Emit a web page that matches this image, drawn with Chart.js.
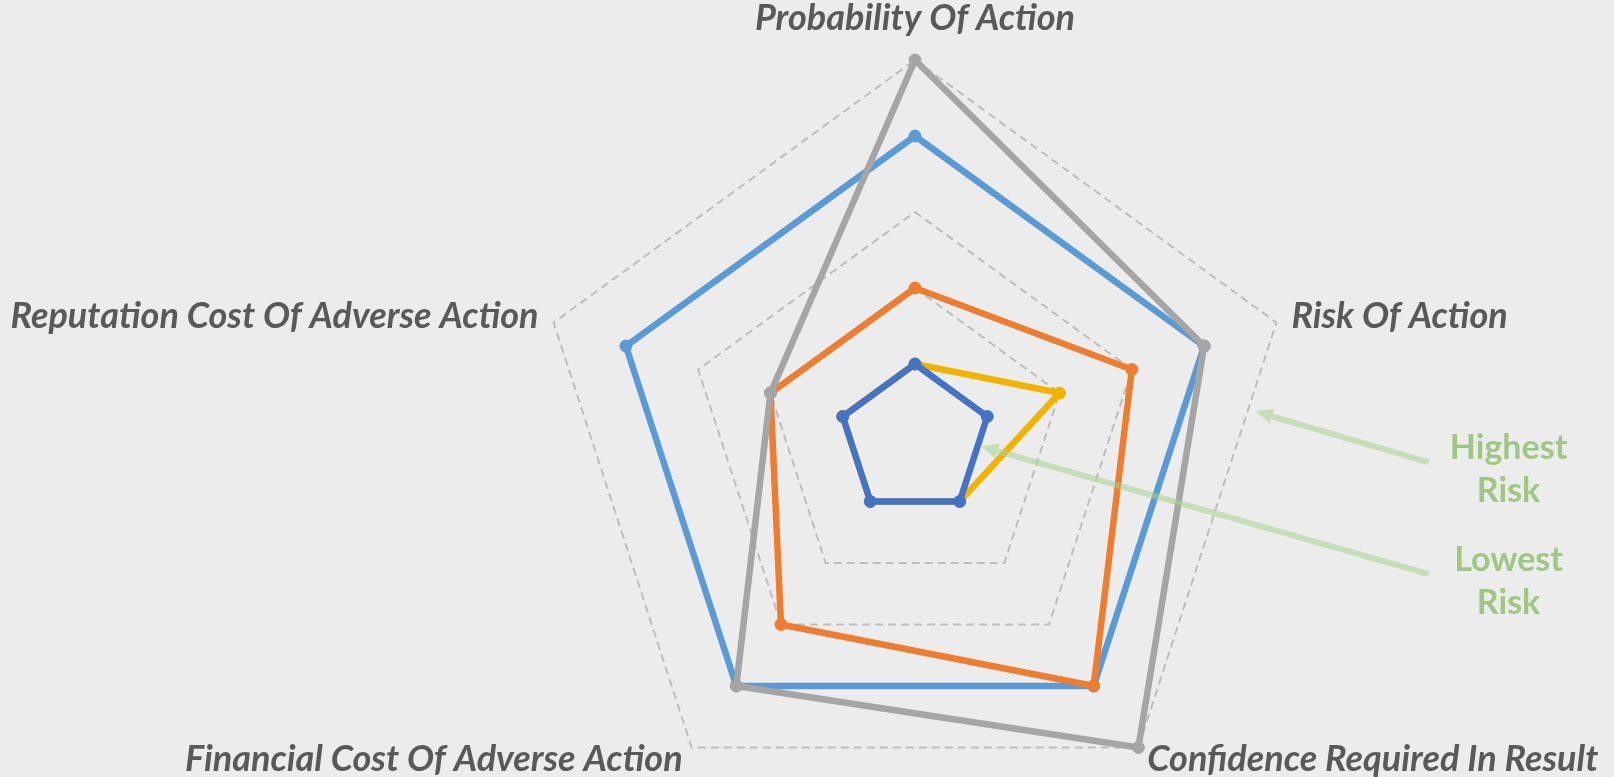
<!DOCTYPE html>
<html>
<head>
<meta charset="utf-8">
<script src="https://cdn.jsdelivr.net/npm/chart.js@4.4.0/dist/chart.umd.min.js"></script>
<style>
  html, body { margin: 0; padding: 0; background: #ececec; overflow: hidden; }
  #wrap { position: relative; width: 1614px; height: 821px; }
</style>
</head>
<body>
<div id="wrap"><canvas id="myCanvas"></canvas></div>
<script>
// axes of the radar
var categories = [
  "Probability Of Action",
  "Risk Of Action",
  "Confidence Required In Result",
  "Financial Cost Of Adverse Action",
  "Reputation Cost Of Adverse Action"
];

// series values (scale 0..5)
var seriesNames = ["Series 1", "Series 2", "Series 3", "Series 4", "Series 5"];
var series1 = [4, 4, 4, 4, 4];
var series2 = [2, 3, 4, 3, 2];
var series3 = [5, 4, 5, 4, 2];
var series4 = [1, 2, 1, 1, 1];
var series5 = [1, 1, 1, 1, 1];

var scaleMin = 0;
var scaleMax = 5;
var scaleStep = 1;

var noteLines = [["Highest", "Risk"], ["Lowest", "Risk"]];

// ---- drawing stuff below ----
var colors = ["#5B9BD5", "#ED7D31", "#A5A5A5", "#F0B400", "#4472C4"];
var allSeries = [series1, series2, series3, series4, series5];

// label placement around each vertex (px offsets from the outer vertex)
var labelPlace = [
  { align: "center", dx: 0, dy: -30 },
  { align: "left", dx: 15, dy: 5 },
  { align: "left", dx: 9, dy: 24 },
  { align: "right", dx: -9, dy: 24 },
  { align: "right", dx: -15, dy: 5 }
];

// annotation arrows, in units of the radar radius from centre
var notes = [
  { from: [1.352, 0.059], to: [0.897, -0.075], text: [1.562, 0.051, 0.164] },
  { from: [1.352, 0.353], to: [0.174, 0.017], text: [1.562, 0.346, 0.459] }
];

var datasets = [];
for (var i = 0; i < allSeries.length; i++) {
  datasets.push({
    label: seriesNames[i],
    data: allSeries[i],
    borderColor: colors[i],
    backgroundColor: colors[i],
    pointBackgroundColor: colors[i],
    pointBorderColor: colors[i],
    borderWidth: 6.5,
    pointRadius: 6,
    pointBorderWidth: 1,
    borderJoinStyle: "round",
    borderCapStyle: "round",
    fill: false,
    order: allSeries.length - i   // later series drawn on top
  });
}

function arrow(ctx, x1, y1, x2, y2) {
  var ang = Math.atan2(y2 - y1, x2 - x1);
  var head = 17;
  var bx = x2 - Math.cos(ang) * head;
  var by = y2 - Math.sin(ang) * head;
  ctx.beginPath();
  ctx.moveTo(x1, y1);
  ctx.lineTo(bx, by);
  ctx.stroke();
  ctx.beginPath();
  ctx.moveTo(x2, y2);
  ctx.lineTo(bx + Math.sin(ang) * 8, by - Math.cos(ang) * 8);
  ctx.lineTo(bx - Math.sin(ang) * 8, by + Math.cos(ang) * 8);
  ctx.closePath();
  ctx.fill();
}

var labelPlugin = {
  id: "axisLabels",
  afterDraw: function (chart) {
    var scale = chart.scales.r;
    var ctx = chart.ctx;
    var R = scale.drawingArea;
    var cx = scale.xCenter, cy = scale.yCenter;
    ctx.save();
    ctx.font = "italic bold 36px Lato";
    ctx.fillStyle = "#595959";
    ctx.textBaseline = "alphabetic";
    for (var i = 0; i < categories.length; i++) {
      var p = scale.getPointPosition(i, R);
      ctx.textAlign = labelPlace[i].align;
      ctx.fillText(categories[i], p.x + labelPlace[i].dx, p.y + labelPlace[i].dy);
    }

    // arrows + notes
    ctx.strokeStyle = "rgba(169,209,142,0.55)";
    ctx.fillStyle = "rgba(169,209,142,0.55)";
    ctx.lineWidth = 6;
    for (var n = 0; n < notes.length; n++) {
      var a = notes[n];
      arrow(ctx, cx + a.from[0] * R, cy + a.from[1] * R, cx + a.to[0] * R, cy + a.to[1] * R);
    }
    ctx.font = "bold 34px Lato";
    ctx.fillStyle = "#9DC783";
    ctx.textAlign = "center";
    for (var n = 0; n < notes.length; n++) {
      var t = notes[n].text;
      ctx.fillText(noteLines[n][0], cx + t[0] * R, cy + t[1] * R);
      ctx.fillText(noteLines[n][1], cx + t[0] * R, cy + t[2] * R);
    }
    ctx.restore();
  }
};

var myChart = document.getElementById("myCanvas").getContext("2d");
var chart = new Chart(myChart, {
  type: "radar",
  data: {
    labels: categories,
    datasets: datasets
  },
  options: {
    responsive: true,
    maintainAspectRatio: false,
    animation: false,
    layout: { padding: { left: 217, top: 60, right: 0, bottom: 0 } },
    plugins: {
      legend: { display: false },
      tooltip: { enabled: false }
    },
    scales: {
      r: {
        min: scaleMin,
        max: scaleMax,
        ticks: { display: false, stepSize: scaleStep },
        grid: { color: "#bdbdbd", lineWidth: 2 },
        border: { dash: [8, 5] },
        angleLines: { display: false },
        pointLabels: { display: false }
      }
    }
  },
  plugins: [labelPlugin]
});
</script>
</body>
</html>
